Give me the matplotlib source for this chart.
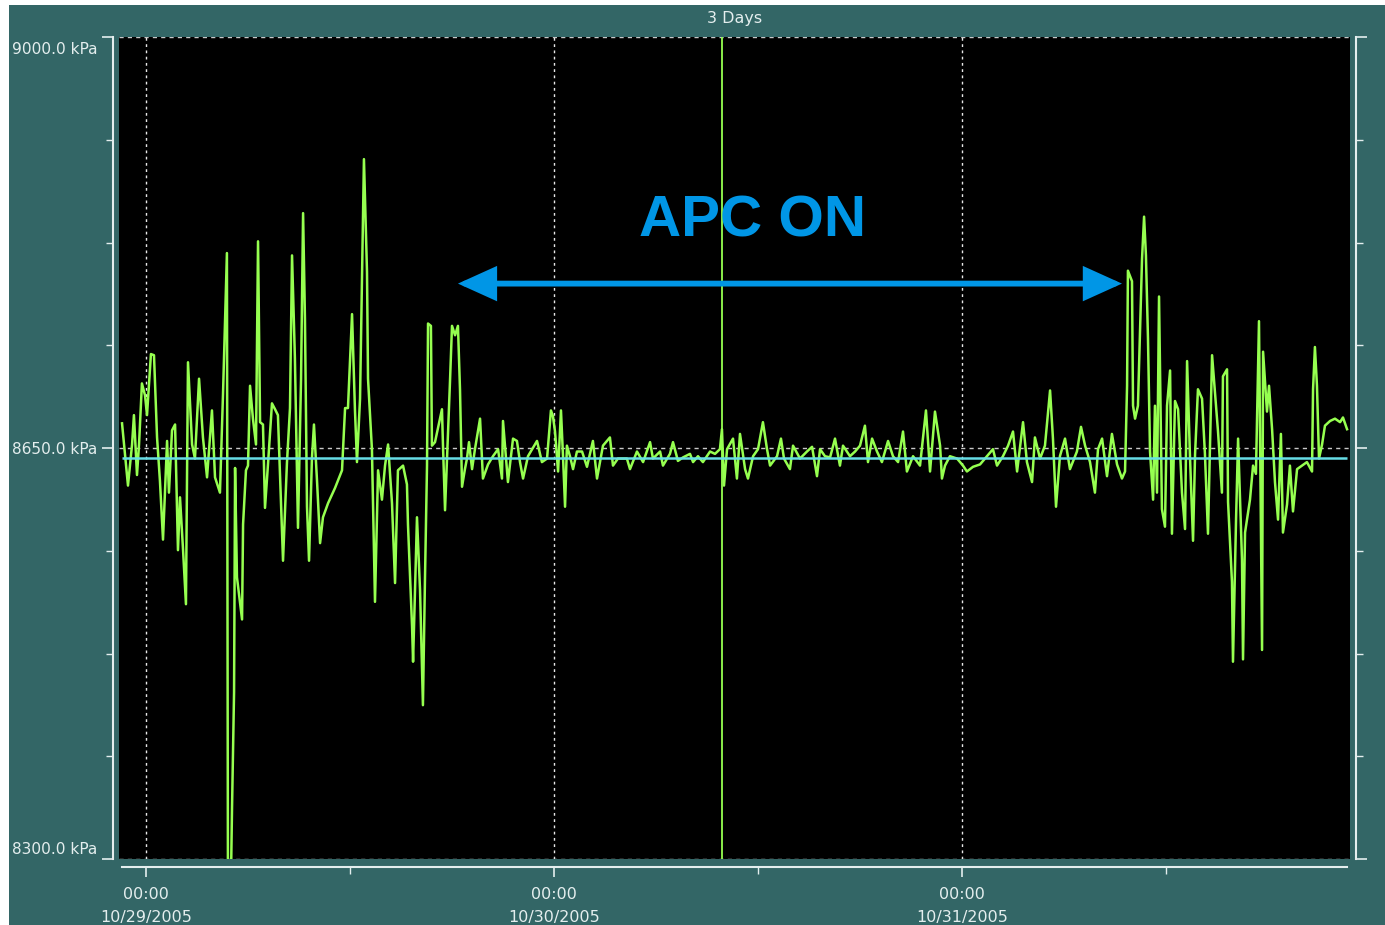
import numpy as np
import matplotlib
matplotlib.use('Agg')
import matplotlib.pyplot as plt
import matplotlib.transforms as mtransforms
from matplotlib.patches import Rectangle
from matplotlib.ticker import FixedLocator

# 数据: 小时 (相对 10/29/2005 00:00) 和压力 (kPa)
HOURS = [
    -1.41, -1.06, -0.82, -0.71, -0.53, -0.41, -0.24, -0.06, 0.06, 0.29,
    0.47, 0.65, 0.82, 1.0, 1.24, 1.35, 1.53, 1.71, 1.88, 2.0,
    2.18, 2.35, 2.47, 2.71, 2.88, 3.12, 3.35, 3.59, 3.88, 4.06,
    4.35, 4.53, 4.76, 4.82, 4.94, 5.0, 5.06, 5.18, 5.24, 5.35,
    5.65, 5.71, 5.88, 6.0, 6.12, 6.29, 6.47, 6.59, 6.71, 6.88,
    7.0, 7.18, 7.41, 7.59, 7.76, 8.06, 8.29, 8.47, 8.59, 8.76,
    8.94, 9.12, 9.24, 9.35, 9.47, 9.59, 9.76, 9.88, 10.06, 10.24,
    10.41, 10.71, 11.12, 11.53, 11.71, 11.88, 12.12, 12.29, 12.41, 12.59,
    12.82, 13.0, 13.06, 13.29, 13.47, 13.65, 13.88, 14.06, 14.24, 14.47,
    14.65, 14.82, 15.12, 15.35, 15.41, 15.65, 15.71, 15.94, 16.12, 16.29,
    16.41, 16.53, 16.59, 16.76, 16.82, 17.0, 17.41, 17.47, 17.59, 17.88,
    18.0, 18.18, 18.35, 18.47, 18.59, 18.76, 18.88, 19.0, 19.18, 19.35,
    19.65, 19.82, 20.12, 20.41, 20.71, 20.94, 21.0, 21.29, 21.59, 21.82,
    22.0, 22.18, 22.47, 23.0, 23.29, 23.59, 23.82, 23.94, 24.06, 24.24,
    24.41, 24.53, 24.65, 24.76, 24.94, 25.12, 25.35, 25.65, 25.94, 26.29,
    26.53, 26.88, 27.29, 27.47, 27.76, 28.29, 28.47, 28.88, 29.24, 29.65,
    29.82, 30.24, 30.41, 30.82, 31.0, 31.29, 31.59, 32.0, 32.18, 32.47,
    32.76, 33.18, 33.47, 33.76, 33.88, 34.0, 34.18, 34.53, 34.76, 34.94,
    35.24, 35.41, 35.71, 36.0, 36.29, 36.53, 36.71, 37.12, 37.35, 37.53,
    37.88, 38.06, 38.47, 38.88, 39.18, 39.47, 39.65, 39.94, 40.24, 40.53,
    40.82, 41.0, 41.41, 41.71, 42.0, 42.29, 42.47, 42.71, 43.0, 43.29,
    43.65, 43.94, 44.24, 44.53, 44.76, 45.12, 45.53, 45.88, 46.12, 46.41,
    46.71, 46.82, 47.0, 47.29, 47.71, 48.06, 48.29, 48.65, 49.06, 49.47,
    49.82, 50.06, 50.41, 50.71, 51.0, 51.24, 51.59, 51.82, 52.12, 52.29,
    52.59, 52.88, 53.18, 53.35, 53.53, 53.76, 54.06, 54.35, 54.76, 55.0,
    55.24, 55.53, 55.82, 56.0, 56.24, 56.53, 56.82, 57.12, 57.41, 57.59,
    57.71, 57.76, 58.0, 58.06, 58.18, 58.35, 58.59, 58.71, 58.82, 58.94,
    59.06, 59.24, 59.35, 59.47, 59.59, 59.76, 59.94, 60.06, 60.24, 60.35,
    60.53, 60.71, 60.94, 61.12, 61.24, 61.41, 61.59, 61.71, 61.88, 62.12,
    62.29, 62.47, 62.71, 62.88, 63.06, 63.29, 63.35, 63.59, 63.65, 63.88,
    63.94, 64.12, 64.24, 64.47, 64.53, 64.65, 64.94, 65.12, 65.29, 65.47,
    65.65, 65.71, 65.94, 66.06, 66.24, 66.41, 66.59, 66.76, 66.88, 67.12,
    67.29, 67.47, 67.71, 68.0, 68.29, 68.59, 68.65, 68.76, 68.88, 69.0,
    69.18, 69.35, 69.65, 69.94, 70.24, 70.41, 70.65,
]
PRESSURE = [
    8671, 8618, 8653, 8678, 8627, 8653, 8705, 8695, 8678, 8730,
    8729, 8659, 8622, 8572, 8656, 8612, 8665, 8670, 8563, 8608,
    8563, 8517, 8723, 8653, 8641, 8709, 8659, 8625, 8682, 8625,
    8612, 8696, 8816, 8280, 8270, 8285, 8343, 8442, 8633, 8540,
    8504, 8585, 8631, 8635, 8703, 8675, 8653, 8826, 8672, 8670,
    8599, 8637, 8688, 8683, 8678, 8554, 8637, 8684, 8814, 8726,
    8582, 8709, 8850, 8760, 8600, 8554, 8641, 8670, 8622, 8569,
    8591, 8603, 8616, 8631, 8684, 8684, 8764, 8683, 8638, 8692,
    8896, 8800, 8709, 8649, 8519, 8631, 8606, 8635, 8653, 8603,
    8535, 8631, 8635, 8619, 8585, 8498, 8468, 8591, 8529, 8431,
    8538, 8635, 8756, 8754, 8652, 8655, 8683, 8652, 8597, 8706,
    8754, 8746, 8754, 8700, 8617, 8632, 8641, 8655, 8632, 8649,
    8675, 8624, 8636, 8643, 8649, 8624, 8673, 8621, 8658, 8656,
    8638, 8624, 8643, 8656, 8638, 8641, 8682, 8677, 8664, 8630,
    8682, 8643, 8600, 8652, 8643, 8632, 8647, 8647, 8634, 8656,
    8624, 8652, 8659, 8635, 8641, 8641, 8632, 8647, 8638, 8655,
    8641, 8647, 8635, 8645, 8655, 8639, 8642, 8645, 8638, 8643,
    8638, 8647, 8645, 8649, 8666, 8618, 8649, 8658, 8624, 8662,
    8632, 8624, 8643, 8649, 8672, 8649, 8635, 8643, 8658, 8641,
    8632, 8652, 8641, 8647, 8651, 8626, 8649, 8643, 8642, 8658,
    8635, 8652, 8643, 8647, 8652, 8669, 8638, 8658, 8647, 8638,
    8656, 8643, 8638, 8664, 8630, 8643, 8635, 8682, 8630, 8681,
    8652, 8624, 8635, 8643, 8641, 8635, 8630, 8634, 8636, 8643,
    8649, 8635, 8643, 8652, 8664, 8630, 8672, 8638, 8621, 8659,
    8641, 8652, 8699, 8658, 8600, 8643, 8658, 8632, 8647, 8668,
    8652, 8638, 8612, 8649, 8658, 8626, 8662, 8636, 8624, 8630,
    8703, 8801, 8792, 8686, 8675, 8686, 8811, 8847, 8814, 8743,
    8647, 8606, 8686, 8612, 8779, 8598, 8583, 8686, 8716, 8577,
    8690, 8683, 8612, 8581, 8724, 8643, 8571, 8645, 8700, 8692,
    8645, 8577, 8729, 8698, 8664, 8612, 8711, 8717, 8604, 8536,
    8468, 8589, 8658, 8555, 8470, 8578, 8606, 8635, 8628, 8758,
    8478, 8732, 8681, 8703, 8666, 8621, 8589, 8662, 8578, 8602,
    8635, 8596, 8632, 8635, 8638, 8630, 8700, 8736, 8703, 8641,
    8653, 8669, 8673, 8675, 8672, 8676, 8666,
]

SETPOINT = 8641.5          # 青色参考线
MARKER_HOUR = 33.88        # 竖直光标线
APC_START, APC_END = 18.35, 57.41
APC_LEVEL = 8790
DAY_LABELS = ['10/29/2005', '10/30/2005', '10/31/2005']
Y_LABELS = ['8300.0 kPa', '8650.0 kPa', '9000.0 kPa']

TEAL = '#336666'
GREEN = '#96ff50'
CYAN = '#66dde6'
BLUE = '#0096e6'
LIGHT = '#e4eeee'

fig = plt.figure(figsize=(13.85, 9.25), dpi=100, facecolor='white')
fig.patches.append(Rectangle((9 / 1385, 0), 1, 1 - 5 / 925, transform=fig.transFigure,
                             facecolor=TEAL, edgecolor='none', zorder=-10))

ax = fig.add_axes([119 / 1385, 1 - 859 / 925, 1231 / 1385, 822 / 925])
ax.set_facecolor('black')
ax.set_xlim(-27 / 17, 1204 / 17)
ax.set_ylim(8300, 9000)

# 网格
for yv in [8300, 8650, 9000]:
    ax.axhline(yv, color='#c8c8c8', lw=1.0, ls=(0, (3, 3)), zorder=1)
for d in range(3):
    ax.axvline(24 * d, color='#e8e8e8', lw=1.0, ls=(0, (2, 2.5)), zorder=1)

# 数据
ax.plot(HOURS, PRESSURE, color=GREEN, lw=1.8, zorder=3)
ax.hlines(SETPOINT, HOURS[0], HOURS[-1], color=CYAN, lw=1.8, zorder=4)
ax.axvline(MARKER_HOUR, color=GREEN, lw=1.3, zorder=2)

# APC 箭头和文字
ax.annotate('', xy=(APC_END, APC_LEVEL), xytext=(APC_START, APC_LEVEL),
            arrowprops=dict(arrowstyle='<|-|>,head_length=2.1,head_width=0.95',
                            mutation_scale=10, lw=4.2, color=BLUE,
                            shrinkA=0, shrinkB=0, joinstyle='miter'), zorder=5)
ax.text(35.65, 8843, 'APC ON', color=BLUE, fontsize=42, fontweight='bold',
        family='Liberation Sans', ha='center', va='center', zorder=5)

# 坐标轴
ax.spines['top'].set_visible(False)
for side in ['left', 'right', 'bottom']:
    ax.spines[side].set_color(LIGHT)
    ax.spines[side].set_linewidth(1.5)
    ax.spines[side].set_position(('outward', 4))
ax.spines['bottom'].set_position(('outward', 6))
ax.spines['bottom'].set_bounds(HOURS[0], HOURS[-1])

ax.yaxis.set_ticks_position('both')
ax.set_yticks([8300, 8650, 9000])
ax.set_yticklabels(Y_LABELS)
ax.yaxis.set_minor_locator(FixedLocator(np.arange(8300, 9001, 87.5)))
ax.tick_params(axis='y', which='major', length=8, width=1.2, colors=LIGHT,
               labelsize=11.1, pad=3.5, direction='out')
ax.tick_params(axis='y', which='minor', length=5, width=1.0, colors=LIGHT, direction='out')
labels = ax.get_yticklabels()
labels[0].set_transform(labels[0].get_transform() +
                        mtransforms.ScaledTranslation(0, 8 / 72, fig.dpi_scale_trans))
labels[-1].set_transform(labels[-1].get_transform() +
                         mtransforms.ScaledTranslation(0, -8 / 72, fig.dpi_scale_trans))

ax.set_xticks([0, 24, 48])
ax.set_xticklabels([f'00:00\n{d}' for d in DAY_LABELS])
ax.xaxis.set_minor_locator(FixedLocator([12, 36, 60]))
ax.tick_params(axis='x', which='major', length=7, width=1.2, colors=LIGHT,
               labelsize=11.5, pad=7, direction='out')
ax.tick_params(axis='x', which='minor', length=5, width=1.0, colors=LIGHT, direction='out')
for t in ax.get_xticklabels():
    t.set_linespacing(1.7)

fig.text(734.5 / 1385, 1 - 18 / 925, '3 Days', color=LIGHT, fontsize=11.5,
         ha='center', va='center')

fig.savefig('out.png', dpi=100, facecolor=fig.get_facecolor())
